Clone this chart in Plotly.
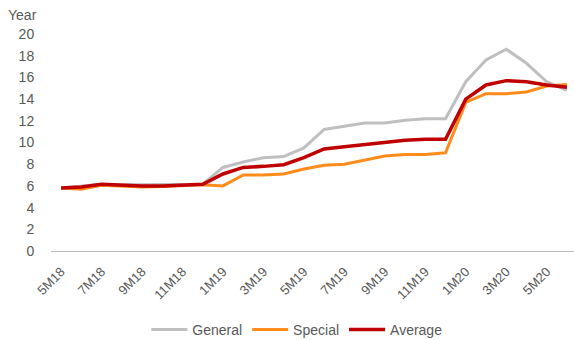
import plotly.graph_objects as go

months = ["5M18", "6M18", "7M18", "8M18", "9M18", "10M18", "11M18", "12M18",
          "1M19", "2M19", "3M19", "4M19", "5M19", "6M19", "7M19", "8M19",
          "9M19", "10M19", "11M19", "12M19", "1M20", "2M20", "3M20", "4M20",
          "5M20", "6M20"]
general = [5.8, 5.95, 6.15, 6.1, 6.1, 6.1, 6.15, 6.15,
           7.7, 8.2, 8.6, 8.7, 9.5, 11.2, 11.5, 11.8,
           11.8, 12.05, 12.2, 12.2, 15.6, 17.6, 18.6, 17.3,
           15.6, 14.8]
special = [5.8, 5.7, 6.05, 5.95, 5.9, 5.95, 6.05, 6.1,
           6.0, 7.0, 7.0, 7.1, 7.55, 7.9, 8.0, 8.4,
           8.75, 8.9, 8.9, 9.05, 13.7, 14.5, 14.5, 14.65,
           15.2, 15.35]
average = [5.8, 5.9, 6.15, 6.05, 6.0, 6.0, 6.1, 6.15,
           7.1, 7.7, 7.8, 7.95, 8.6, 9.4, 9.6, 9.8,
           10.0, 10.2, 10.3, 10.3, 14.0, 15.3, 15.7, 15.6,
           15.3, 15.1]
tick_labels = months[::2]

fig = go.Figure()
fig.add_trace(go.Scatter(x=months, y=general, name="General", mode="lines",
                         line=dict(color="#BFBFBF", width=3)))
fig.add_trace(go.Scatter(x=months, y=special, name="Special", mode="lines",
                         line=dict(color="#FF8C1A", width=3)))
fig.add_trace(go.Scatter(x=months, y=average, name="Average", mode="lines",
                         line=dict(color="#C00000", width=3.5)))

font_color = "#595959"
axis_color = "#BFBFBF"
fig.update_layout(
    width=574, height=340,
    margin=dict(l=51, r=0, t=34, b=89, autoexpand=False),
    paper_bgcolor="white", plot_bgcolor="white",
    font=dict(family="Liberation Sans, Arial, sans-serif", size=13, color=font_color),
    showlegend=True,
    legend=dict(orientation="h", x=0.47, xanchor="center", y=-0.364, yanchor="middle",
                font=dict(size=14, color=font_color), itemwidth=36),
    xaxis=dict(type="category", range=[-0.5, 25.35], tickmode="array",
               tickvals=tick_labels, ticktext=tick_labels, tickangle=-45,
               showgrid=False, showline=True, linecolor=axis_color, linewidth=1,
               ticks="outside", ticklen=7, tickcolor="rgba(0,0,0,0)",
               zeroline=False, automargin=False,
               tickfont=dict(size=13, color=font_color)),
    yaxis=dict(range=[0, 20], dtick=2, showgrid=False, zeroline=True,
               zerolinecolor=axis_color, zerolinewidth=1,
               showline=False, ticks="outside", ticklen=13, tickcolor="rgba(0,0,0,0)",
               automargin=False,
               tickfont=dict(size=14, color=font_color)),
    annotations=[dict(text="Year", xref="paper", yref="paper", x=-0.055, y=1.088,
                      xanchor="center", yanchor="middle", showarrow=False,
                      font=dict(size=14, color=font_color))],
)

fig.write_html("out.html")
